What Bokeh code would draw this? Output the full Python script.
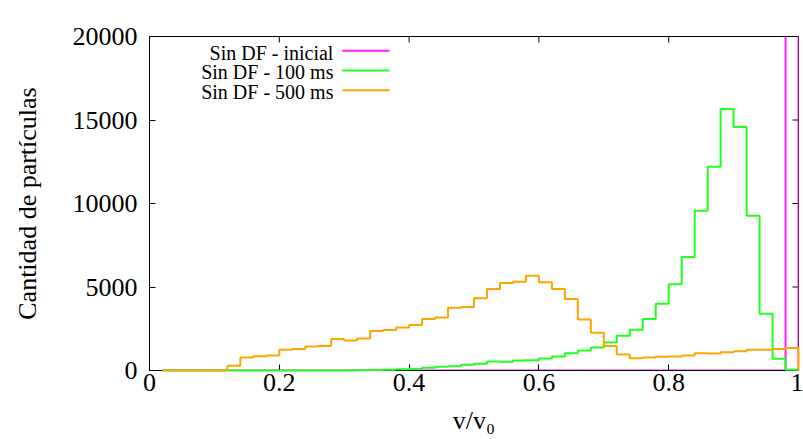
from bokeh.plotting import figure
from bokeh.models import Range1d, FixedTicker, Label
from bokeh.embed import file_html
from bokeh.resources import INLINE

# ---------------- data ----------------
bin_width = 0.02
bin_left = [round(0.02 * (i + 1), 2) for i in range(49)]  # 0.02 ... 0.98

inicial_counts = [0] * 48 + [100000]

ms100_counts = [0] * 15 + [
    10, 30, 40, 80, 100, 160, 220, 260, 340, 400, 540, 520, 600, 620, 720,
    840, 1040, 1200, 1380, 1680, 2080, 2440, 3080, 4000, 5160, 6800, 9560,
    12200, 15660, 14580, 9260, 3400, 700, 50,
]

ms500_counts = [0] * 5 + [
    280, 780, 860, 900, 1240, 1280, 1440, 1460, 1880, 1800, 1920, 2360, 2420,
    2580, 2720, 3080, 3180, 3760, 3800, 4320, 4880, 5240, 5320, 5680, 5280,
    4880, 4280, 3060, 2260, 1460, 960, 740, 780, 820, 840, 900, 1040, 1020,
    1100, 1160, 1240, 1240, 1280, 1340,
]

series_names = ["Sin DF - inicial", "Sin DF - 100 ms", "Sin DF - 500 ms"]
series_counts = [inicial_counts, ms100_counts, ms500_counts]
series_colors = ["#ff20ff", "#20ff20", "#ffa500"]
# series that stay inside the y range may be drawn above the border lines
series_on_top = [False, True, True]

x_ticks = [0, 0.2, 0.4, 0.6, 0.8, 1.0]
x_tick_labels = ["0", "0.2", "0.4", "0.6", "0.8", "1"]
y_ticks = [0, 5000, 10000, 15000, 20000]

FONT = "Liberation Serif"
X_MIN, X_MAX, Y_MIN, Y_MAX = 0, 1, 0, 20000

# ---------------- figure ----------------
p = figure(width=803, height=439, output_backend="svg", toolbar_location=None,
           x_range=Range1d(X_MIN, X_MAX), y_range=Range1d(Y_MIN, Y_MAX),
           min_border_left=149, min_border_right=5, min_border_top=36,
           min_border_bottom=69)
p.xgrid.visible = False
p.ygrid.visible = False
p.outline_line_color = "black"
p.outline_line_width = 1
p.background_fill_color = "white"
p.border_fill_color = "white"

# axes
def style_axis(ax, ticks):
    ax.ticker = FixedTicker(ticks=ticks)
    ax.major_tick_in = 6
    ax.major_tick_out = 0
    ax.minor_tick_line_color = None
    ax.axis_line_color = "black"
    ax.major_tick_line_color = "black"
    ax.major_label_text_font = FONT
    ax.major_label_text_color = "black"
    ax.major_label_text_font_size = "26px"
    ax.axis_label_text_font = FONT
    ax.axis_label_text_font_style = "normal"
    ax.axis_label_text_font_size = "26px"
    ax.axis_label_text_color = "black"

xa = p.xaxis[0]
style_axis(xa, x_ticks)
xa.major_label_overrides = {t: s for t, s in zip(x_ticks, x_tick_labels)}
xa.major_label_standoff = 3
xa.axis_label = "v/v₀"
xa.axis_label_standoff = 12

ya = p.yaxis[0]
style_axis(ya, y_ticks)
ya.major_label_standoff = 12
ya.axis_label = "Cantidad de partículas"
ya.axis_label_standoff = 28

# mirrored inward ticks on the top and right borders (gnuplot style)
tick_len_y = 6 * (Y_MAX - Y_MIN) / 334
tick_len_x = 6 * (X_MAX - X_MIN) / 649
p.segment(x0=x_ticks, x1=x_ticks, y0=[Y_MAX] * len(x_ticks),
          y1=[Y_MAX - tick_len_y] * len(x_ticks), line_color="black", line_width=1)
p.segment(x0=[X_MAX] * len(y_ticks), x1=[X_MAX - tick_len_x] * len(y_ticks),
          y0=y_ticks, y1=y_ticks, line_color="black", line_width=1)

# histogram step lines
for name, counts, color, on_top in zip(series_names, series_counts,
                                       series_colors, series_on_top):
    xs = bin_left + [round(bin_left[-1] + bin_width, 2)]
    ys = counts + [0]
    r = p.step(xs, ys, mode="after", line_color=color, line_width=2)
    if on_top:
        r.level = "overlay"

# gnuplot-like legend (text right-aligned, sample on the right)
leg_text_x = 0.2834
leg_line_x0 = 0.297
leg_line_x1 = 0.370
leg_y = [19140, 17960, 16780]
leg_text_drop = 110
for name, color, y in zip(series_names, series_colors, leg_y):
    p.add_layout(Label(x=leg_text_x, y=y - leg_text_drop, text=name,
                       text_align="right", text_baseline="alphabetic",
                       text_font=FONT, text_font_size="20px",
                       text_color="black"))
p.segment(x0=[leg_line_x0] * 3, x1=[leg_line_x1] * 3, y0=leg_y, y1=leg_y,
          line_color=series_colors, line_width=2)

open("out.html", "w").write(file_html(p, INLINE))
